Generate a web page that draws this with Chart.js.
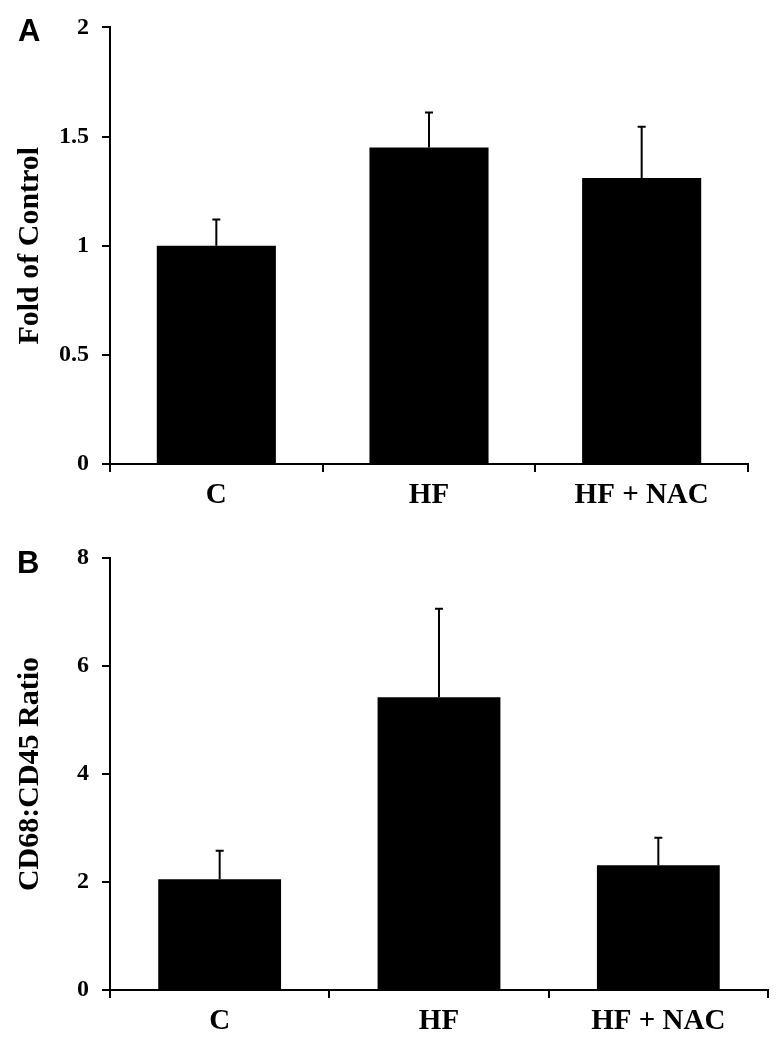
<!DOCTYPE html>
<html>
<head>
<meta charset="utf-8">
<script src="https://cdn.jsdelivr.net/npm/chart.js@4.4.1/dist/chart.umd.min.js"></script>
<style>
  body { margin: 0; background: #fff; }
  #wrap { position: relative; width: 780px; height: 1050px; }
  canvas { position: absolute; left: 0; }
  .letra { position: absolute; font: bold 31px "Liberation Sans", Arial, sans-serif; line-height: 31px; color: #000; }
</style>
</head>
<body>
<div id="wrap">
  <canvas id="grafA" width="780" height="520" style="top:0"></canvas>
  <canvas id="grafB" width="780" height="530" style="top:520px"></canvas>
  <div class="letra" style="left:18px;top:15px">A</div>
  <div class="letra" style="left:17px;top:547px">B</div>
</div>
<script>
// dados
const grupos = ["C", "HF", "HF + NAC"];

const foldMedia = [1.0, 1.45, 1.31];
const foldErro = [0.12, 0.16, 0.235];
const foldTicks = [0, 0.5, 1, 1.5, 2];

const ratioMedia = [2.05, 5.42, 2.31];
const ratioErro = [0.53, 1.64, 0.51];
const ratioTicks = [0, 2, 4, 6, 8];

const SERIF = '"Liberation Serif", "Times New Roman", serif';

// ------------------------------------------------------
// barras de erro (so para cima)
// ------------------------------------------------------
const errorBars = {
  id: "errorBars",
  afterDatasetsDraw(chart) {
    const ctx = chart.ctx;
    const ds = chart.data.datasets[0];
    const meta = chart.getDatasetMeta(0);
    const y = chart.scales.y;
    ctx.save();
    ctx.strokeStyle = "#000";
    ctx.lineWidth = 2;
    meta.data.forEach((bar, i) => {
      const topo = y.getPixelForValue(ds.data[i] + ds.erro[i]);
      ctx.beginPath();
      ctx.moveTo(bar.x, bar.y);
      ctx.lineTo(bar.x, topo);
      ctx.moveTo(bar.x - 4, topo);
      ctx.lineTo(bar.x + 4, topo);
      ctx.stroke();
    });
    ctx.restore();
  }
};

// ------------------------------------------------------
// grafico de barras
// ------------------------------------------------------
function gerarGrafico(id, media, erro, ticks, titulo, pad) {
  return new Chart(document.getElementById(id), {
    type: "bar",
    data: {
      labels: grupos,
      datasets: [{
        data: media,
        erro: erro,
        backgroundColor: "#000",
        barPercentage: 0.56,
        categoryPercentage: 1.0
      }]
    },
    options: {
      responsive: false,
      animation: false,
      devicePixelRatio: 1,
      layout: { padding: { top: pad.top, right: pad.right, left: 0, bottom: 0 } },
      plugins: { legend: { display: false }, tooltip: { enabled: false } },
      scales: {
        x: {
          afterFit: s => { s.height = pad.xAltura; },
          border: { color: "#000", width: 2 },
          grid: { offset: true, drawOnChartArea: false, tickLength: 8, color: "#000", lineWidth: 2 },
          ticks: { color: "#000", padding: 6, maxRotation: 0, font: { family: SERIF, size: 29, weight: "bold" } }
        },
        y: {
          min: ticks[0],
          max: ticks[ticks.length - 1],
          afterBuildTicks: s => { s.ticks = ticks.map(v => ({ value: v })); },
          afterFit: s => { s.width = 110; },
          border: { color: "#000", width: 2 },
          grid: { drawOnChartArea: false, tickLength: 8, color: "#000", lineWidth: 2 },
          ticks: {
            color: "#000",
            padding: 13,
            font: { family: SERIF, size: 24, weight: "bold" },
            callback: v => String(v)
          },
          title: {
            display: true,
            text: titulo,
            color: "#000",
            font: { family: SERIF, size: 30, weight: "bold" },
            padding: { top: 12, bottom: 0 }
          }
        }
      }
    },
    plugins: [errorBars]
  });
}

gerarGrafico("grafA", foldMedia, foldErro, foldTicks, "Fold of Control", { top: 25, right: 32, xAltura: 56 });
gerarGrafico("grafB", ratioMedia, ratioErro, ratioTicks, "CD68:CD45 Ratio", { top: 38, right: 12, xAltura: 60 });
</script>
</body>
</html>
